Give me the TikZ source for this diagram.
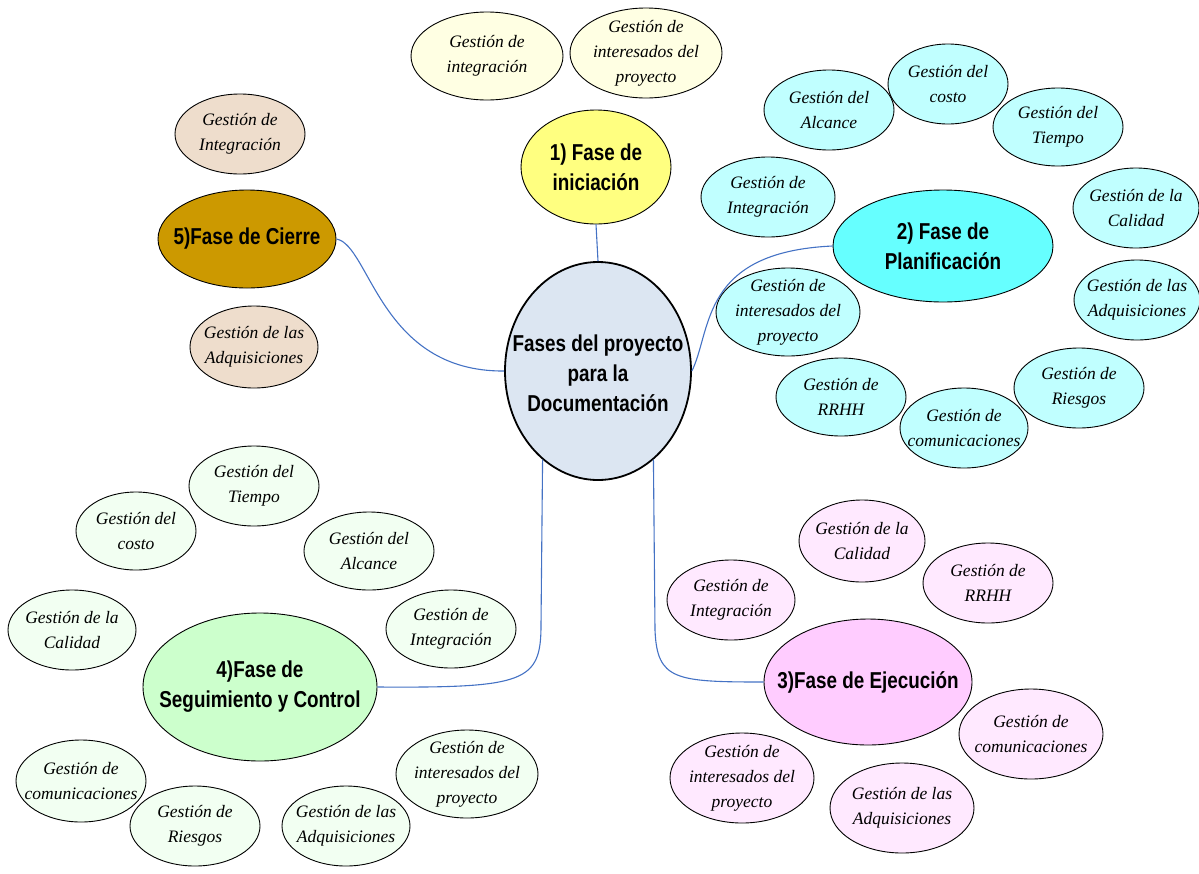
\documentclass[tikz,border=0pt]{standalone}
\usepackage{fontspec}
\setmainfont{Liberation Serif}
\newfontfamily\phasefont[FakeStretch=0.82]{Liberation Sans}
\usetikzlibrary{shapes.geometric}
\definecolor{cconn}{HTML}{4472C4}
\definecolor{ccen}{HTML}{DCE6F2}
\definecolor{cini}{HTML}{FFFF80}
\definecolor{ciniK}{HTML}{FFFFE3}
\definecolor{cpla}{HTML}{66FFFF}
\definecolor{cplaK}{HTML}{C0FFFF}
\definecolor{ceje}{HTML}{FFCCFF}
\definecolor{cejeK}{HTML}{FFE9FF}
\definecolor{cseg}{HTML}{CCFFCC}
\definecolor{csegK}{HTML}{F2FFF2}
\definecolor{ccie}{HTML}{CC9900}
\definecolor{ccieK}{HTML}{EEDDCC}
\tikzset{
  oval/.style={ellipse, draw=black, line width=0.9pt, inner sep=0pt},
  kidtext/.style={font=\itshape\fontsize{17.5}{25}\selectfont, align=center, inner sep=0pt},
  phasetext/.style={font=\phasefont\bfseries\fontsize{23}{30}\selectfont, align=center, inner sep=0pt},
  conn/.style={draw=cconn, line width=1.1pt}
}
% \kid{name}{x}{y}{rx}{ry}{fill}{text}
\newcommand{\kid}[7]{%
  \node[oval, fill=#6, minimum width=#4*2pt, minimum height=#5*2pt] (#1) at (#2,#3) {};
  \node[kidtext] (#1-t) at (#1.center) {#7};
}
\newcommand{\phasenode}[7]{%
  \node[oval, fill=#6, minimum width=#4*2pt, minimum height=#5*2pt] (#1) at (#2,#3) {};
  \node[phasetext] (#1-t) at (#1.center) {#7};
}
\begin{document}
\begin{tikzpicture}[x=1pt,y=-1pt]
\useasboundingbox (0,0) rectangle (1199,873);
% central
\node[ellipse, draw=black, line width=1.8pt, fill=ccen, minimum width=186pt, minimum height=218pt, inner sep=0pt] (c) at (598,371) {};
\node[phasetext] (c-t) at (598,373) {Fases del proyecto\\para la\\Documentación};
% phases
\phasenode{p1}{596}{167}{75}{57}{cini}{1) Fase de\\iniciación}
\phasenode{p2}{943}{246}{110}{56}{cpla}{2) Fase de\\Planificación}
\phasenode{p3}{868}{682}{104}{63}{ceje}{3)Fase de Ejecución}
\phasenode{p4}{260}{687}{117}{74}{cseg}{4)Fase de\\Seguimiento y Control}
\phasenode{p5}{247}{239}{89}{49}{ccie}{5)Fase de Cierre}
% initiation children
\kid{i1}{487}{56}{76}{44}{ciniK}{Gestión de\\integración}
\kid{i2}{646}{53}{76}{45}{ciniK}{Gestión de\\interesados del\\proyecto}
% planning children
\kid{l1}{829}{110}{65}{40}{cplaK}{Gestión del\\Alcance}
\kid{l2}{948}{84}{60}{40}{cplaK}{Gestión del\\costo}
\kid{l3}{1058}{127}{65}{39}{cplaK}{Gestión del\\Tiempo}
\kid{l4}{768}{197}{67}{40}{cplaK}{Gestión de\\Integración}
\kid{l5}{1136}{208}{63}{40}{cplaK}{Gestión de la\\Calidad}
\kid{l6}{1137}{300}{63}{40}{cplaK}{Gestión de las\\Adquisiciones}
\kid{l7}{788}{312}{72}{44}{cplaK}{Gestión de\\interesados del\\proyecto}
\kid{l8}{841}{397}{65}{39}{cplaK}{Gestión de\\RRHH}
\kid{l9}{964}{428}{64}{40}{cplaK}{Gestión de\\comunicaciones}
\kid{l10}{1079}{388}{65}{40}{cplaK}{Gestión de\\Riesgos}
% execution children
\kid{e1}{862}{541}{63}{41}{cejeK}{Gestión de la\\Calidad}
\kid{e2}{988}{583}{65}{40}{cejeK}{Gestión de\\RRHH}
\kid{e3}{731}{600}{64}{40}{cejeK}{Gestión de\\Integración}
\kid{e4}{1031}{734}{72}{45}{cejeK}{Gestión de\\comunicaciones}
\kid{e5}{742}{778}{72}{45}{cejeK}{Gestión de\\interesados del\\proyecto}
\kid{e6}{902}{808}{72}{45}{cejeK}{Gestión de las\\Adquisiciones}
% monitoring children
\kid{s1}{254}{486}{65}{40}{csegK}{Gestión del\\Tiempo}
\kid{s2}{136}{531}{60}{39}{csegK}{Gestión del\\costo}
\kid{s3}{369}{551}{65}{39}{csegK}{Gestión del\\Alcance}
\kid{s4}{72}{630}{64}{40}{csegK}{Gestión de la\\Calidad}
\kid{s5}{451}{629}{65}{39}{csegK}{Gestión de\\Integración}
\kid{s6}{81}{781}{65}{41}{csegK}{Gestión de\\comunicaciones}
\kid{s7}{195}{826}{65}{40}{csegK}{Gestión de\\Riesgos}
\kid{s8}{346}{826}{64}{40}{csegK}{Gestión de las\\Adquisiciones}
\kid{s9}{467}{774}{71}{44}{csegK}{Gestión de\\interesados del\\proyecto}
% closing children
\kid{k1}{240}{134}{65}{40}{ccieK}{Gestión de\\Integración}
\kid{k2}{254}{347}{64}{41}{ccieK}{Gestión de las\\Adquisiciones}
% connectors
\coordinate (b4) at (541,625);
\coordinate (b3) at (655,630);
\draw[conn] (c.north) -- (p1.south);
\draw[conn] (c.east) .. controls (712,330) and (700,252) .. (p2.west);
\draw[conn] (p5.east) .. controls (370,245) and (380,372) .. (c.west);
\draw[conn] (c.238) -- (b4) .. controls (541,682) and (525,688) .. (p4.east);
\draw[conn] (c.302) -- (b3) .. controls (657,680) and (675,682) .. (p3.west);
\end{tikzpicture}
\end{document}
